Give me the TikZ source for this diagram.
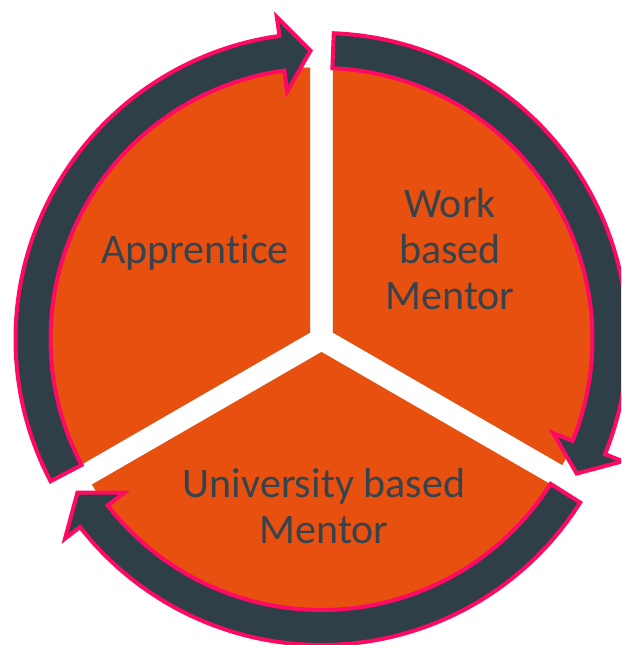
\documentclass[tikz,border=0pt]{standalone}
\usepackage{fontspec}
\setmainfont{Carlito}[Ligatures={NoCommon,NoRequired,NoContextual}]
\usetikzlibrary{calc}
\definecolor{slice}{HTML}{E8500F}
\definecolor{band}{HTML}{2E3F48}
\definecolor{rim}{HTML}{FF0A62}
\definecolor{txt}{HTML}{36434C}
\tikzset{
  slicefill/.style={fill=slice},
  slicesh/.style={fill=black, opacity=0.18},
  arrowbody/.style={fill=band, draw=rim, line width=4pt, line join=miter, miter limit=10},
  arrowsh/.style={fill=black, opacity=0.15},
  lbl/.style={text=txt, font=\fontsize{42}{46}\selectfont, align=center, inner sep=0pt}
}
\newcommand{\myslice}[3]{% style, bisector
  \fill[#1] ($(C)+(#2:13pt)$) -- ++(#2+60:265pt) arc[start angle=#2+60, end angle=#2-60, radius=265pt] -- cycle;
}
\newcommand{\myarrow}[3]{% style, tail angle, tip angle
  \pgfmathsetmacro{\hb}{#3+5.7}
  \fill[#1] ($(C)+(#2:306pt)$) arc[start angle=#2, end angle=\hb, radius=306pt]
    -- ($(C)+(\hb:325pt)$) -- ($(C)+(#3:288.5pt)$) -- ($(C)+(\hb:250pt)$) -- ($(C)+(\hb:271pt)$)
    arc[start angle=\hb, end angle=#2, radius=271pt] -- cycle;
}
\newcommand{\myarrowd}[3]{%
  \pgfmathsetmacro{\hb}{#3+5.7}
  \filldraw[#1] ($(C)+(#2:306pt)$) arc[start angle=#2, end angle=\hb, radius=306pt]
    -- ($(C)+(\hb:325pt)$) -- ($(C)+(#3:288.5pt)$) -- ($(C)+(\hb:250pt)$) -- ($(C)+(\hb:271pt)$)
    arc[start angle=\hb, end angle=#2, radius=271pt] -- cycle;
}
\begin{document}
\begin{tikzpicture}[x=1pt,y=1pt]
\useasboundingbox (0,0) rectangle (621,-645);
\clip (0,0) rectangle (621,-645);
\fill[white] (0,0) rectangle (621,-645);
\coordinate (C) at (321.5,-339);
% slices
\begin{scope}[shift={(1.5,-2)}]
\myslice{slicesh}{150}{}
\myslice{slicesh}{30}{}
\myslice{slicesh}{270}{}
\end{scope}
\myslice{slicefill}{150}{}
\myslice{slicefill}{30}{}
\myslice{slicefill}{270}{}
% arrow shadows
\begin{scope}[shift={(2,-3)}]
\myarrow{arrowsh}{207.7}{92.2}
\myarrow{arrowsh}{87.7}{-27.8}
\myarrow{arrowsh}{-32.3}{-147.8}
\end{scope}
% arrows
\myarrowd{arrowbody}{207.7}{92.2}
\myarrowd{arrowbody}{87.7}{-27.8}
\myarrowd{arrowbody}{-32.3}{-147.8}
% labels
\node[lbl, anchor=base] (appr) at (195,-263) {Apprentice};
\node[lbl, anchor=base] (work) at (450,-309) {Work\\based\\Mentor};
\node[lbl, anchor=base] (univ) at (324,-543) {University based\\Mentor};
\end{tikzpicture}
\end{document}
